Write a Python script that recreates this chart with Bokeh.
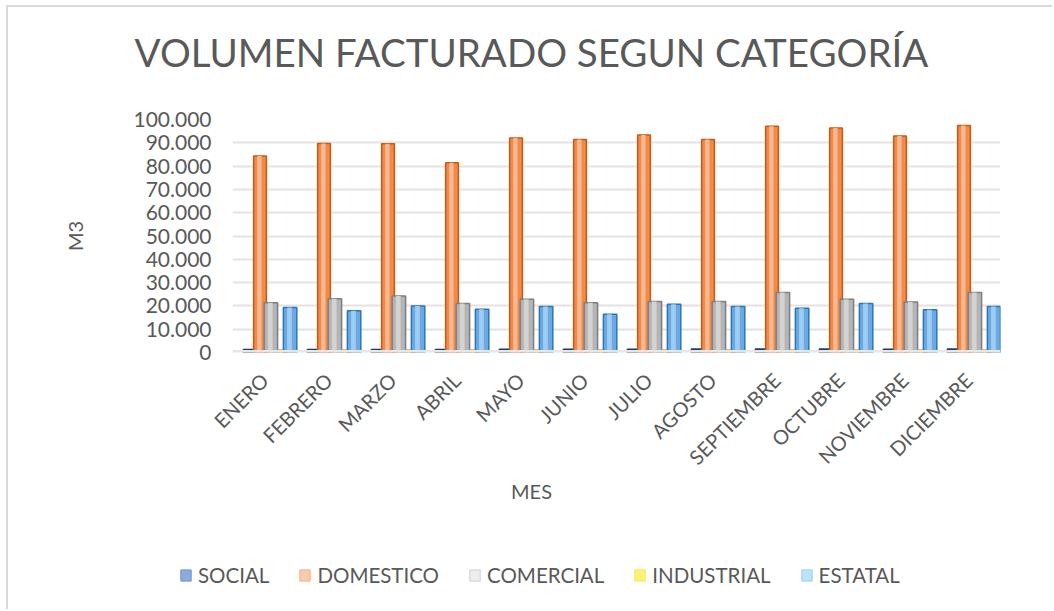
from math import pi
from bokeh.plotting import figure
from bokeh.layouts import column
from bokeh.models import (ColumnDataSource, FactorRange, Range1d, Legend, LegendItem, Label,
                          SingleIntervalTicker, CustomJSTickFormatter, Span)
from bokeh.transform import dodge
from bokeh.embed import file_html
from bokeh.resources import INLINE

# ---------------- data ----------------
months = ["ENERO", "FEBRERO", "MARZO", "ABRIL", "MAYO", "JUNIO", "JULIO",
          "AGOSTO", "SEPTIEMBRE", "OCTUBRE", "NOVIEMBRE", "DICIEMBRE"]
social = [1300, 1300, 1300, 1300, 1400, 1400, 1400, 1500, 1500, 1500, 1400, 1500]
domestico = [84300, 89700, 89600, 81400, 92100, 91400, 93300, 91400, 97100, 96400, 92900, 97400]
comercial = [21400, 23100, 24300, 21000, 22900, 21400, 21900, 21900, 25700, 22900, 21700, 25700]
industrial = [1000, 1000, 1000, 1000, 1000, 1000, 1000, 1000, 1000, 1000, 1000, 1000]
estatal = [19300, 17900, 20000, 18600, 19700, 16400, 20700, 19700, 19000, 21000, 18300, 19700]

series_names = ["SOCIAL", "DOMESTICO", "COMERCIAL", "INDUSTRIAL", "ESTATAL"]
series_fields = ["social", "domestico", "comercial", "industrial", "estatal"]
chart_title = "VOLUMEN FACTURADO SEGUN CATEGORÍA"
x_title = "MES"
y_title = "M3"

TXT = "#595959"
FONT = "Lato"
BORDER = "2px solid #D9D9D9"

src = ColumnDataSource(dict(mes=months, social=social, domestico=domestico,
                            comercial=comercial, industrial=industrial, estatal=estatal))


def strip(height, styles):
    f = figure(width=1046, height=height, output_backend="svg", toolbar_location=None,
               x_range=FactorRange(*months), y_range=Range1d(-1, 0),
               x_axis_type=None, y_axis_type=None, min_border=0)
    f.frame_align = False
    f.styles = styles
    f.outline_line_color = None
    f.grid.visible = False
    f.background_fill_color = "white"
    f.border_fill_color = "white"
    return f


# ---------------- top strip: title ----------------
p0 = strip(80, {"border-top": BORDER, "border-left": BORDER,
                "margin-left": "6px", "margin-top": "5px"})
p0.add_layout(Label(x=523, y=36, x_units="screen", y_units="screen", text=chart_title,
                    text_font=FONT, text_font_size="38.5px", text_color=TXT,
                    text_align="center", text_baseline="middle"))

# ---------------- main chart ----------------
p = figure(x_range=FactorRange(*months, range_padding=0), y_range=Range1d(0, 100000),
           width=1046, height=395, output_backend="svg", toolbar_location=None,
           title=None, min_border_left=224, min_border_right=54,
           min_border_top=34, min_border_bottom=127)
p.frame_align = False
p.styles = {"border-left": BORDER, "margin-left": "6px"}
p.outline_line_color = None
p.background_fill_color = "white"
p.border_fill_color = "white"

p.xgrid.grid_line_color = None
p.ygrid.grid_line_color = "#E3E3E3"
p.ygrid.grid_line_width = 2

p.add_layout(Span(location=0, dimension="width", line_color="#E6E6E6", line_width=5))

# bars: (field, offset, width, fill, line, highlight)
specs = [
    ("social", -0.25, 0.16, "#2F5597", "#203864", None),
    ("industrial", 0.27, 0.15, "#D4A200", "#BF9000", None),
    ("domestico", -0.07, 0.20, "#F08A4B", "#C55A11", "#F8BC94"),
    ("comercial", 0.10, 0.21, "#B4B4B4", "#7F7F7F", "#D6D6D6"),
    ("estatal", 0.40, 0.21, "#6AAAE4", "#2E75B6", "#A6CFF3"),
]
for field, off, w, fill, line, hi in specs:
    p.vbar(x=dodge("mes", off, range=p.x_range), top=field, width=w, source=src,
           fill_color=fill, line_color=line, line_width=1.5)
    if hi:
        p.vbar(x=dodge("mes", off - 0.01, range=p.x_range), top=field, width=w * 0.35,
               source=src, fill_color=hi, line_color=None, fill_alpha=0.9)

p.xaxis.axis_line_color = None
p.xaxis.major_tick_line_color = None
p.xaxis.minor_tick_line_color = None
p.xaxis.major_label_orientation = pi / 4
p.xaxis.major_label_text_font = FONT
p.xaxis.major_label_text_font_size = "20px"
p.xaxis.major_label_text_color = TXT
p.xaxis.major_label_standoff = 18

p.yaxis.ticker = SingleIntervalTicker(interval=10000)
p.yaxis.formatter = CustomJSTickFormatter(
    code="return Math.round(tick).toString().replace(/\\B(?=(\\d{3})+(?!\\d))/g, '.');")
p.yaxis.axis_line_color = None
p.yaxis.major_tick_line_color = None
p.yaxis.minor_tick_line_color = None
p.yaxis.major_label_text_font = FONT
p.yaxis.major_label_text_font_size = "21px"
p.yaxis.major_label_text_color = TXT
p.yaxis.major_label_standoff = 15
p.yaxis.axis_label = y_title
p.yaxis.axis_label_text_font = FONT
p.yaxis.axis_label_text_font_size = "20px"
p.yaxis.axis_label_text_font_style = "normal"
p.yaxis.axis_label_text_color = TXT
p.yaxis.axis_label_standoff = 43

# ---------------- lower strip: x title + legend ----------------
p2 = strip(129, {"border-left": BORDER, "margin-left": "6px"})
p2.add_layout(Label(x=523, y=119, x_units="screen", y_units="screen", text=x_title,
                    text_font=FONT, text_font_size="20px", text_color=TXT,
                    text_align="center", text_baseline="middle"))

# legend proxies: same data, hidden (only their legend swatches show)
leg_colors = [("#8FAADC", "#7393CF"), ("#F8CBAD", "#F4B183"), ("#EDEDED", "#D0D0D0"),
              ("#FFF27A", "#FFE24A"), ("#BDE3FA", "#9DCDEE")]
items = []
for name, field, (fc, lc) in zip(series_names, series_fields, leg_colors):
    r = p2.vbar(x="mes", top=field, width=0.2, source=src, fill_color=fc, line_color=lc,
                visible=False)
    items.append(LegendItem(label=name, renderers=[r]))
legend = Legend(items=items, orientation="horizontal", location=(171, 22),
                label_text_font=FONT, label_text_font_size="20.5px", label_text_color=TXT,
                glyph_width=13, glyph_height=14, label_standoff=6, spacing=29,
                padding=0, margin=0, border_line_color=None, background_fill_alpha=0)
p2.add_layout(legend, "center")

layout = column(p0, p, p2, spacing=0)
open("out.html", "w").write(file_html(layout, INLINE))
